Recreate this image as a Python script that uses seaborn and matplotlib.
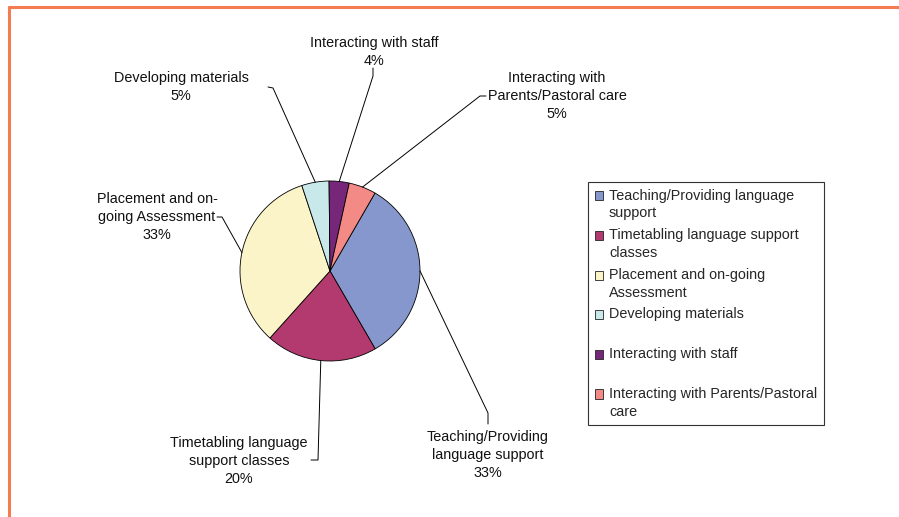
import numpy as np
import matplotlib
matplotlib.use("Agg")
import matplotlib.pyplot as plt
import seaborn as sns
from matplotlib.lines import Line2D
from matplotlib.patches import Rectangle
from matplotlib.legend_handler import HandlerPatch

# --- data -------------------------------------------------------------
categories = [
    "Teaching/Providing language support",
    "Timetabling language support classes",
    "Placement and on-going Assessment",
    "Developing materials",
    "Interacting with staff",
    "Interacting with Parents/Pastoral care",
]
shares = [33.3, 20.0, 33.3, 4.9, 3.6, 4.9]
pct_labels = ["33%", "20%", "33%", "5%", "4%", "5%"]

pie_labels = [
    "Teaching/Providing\nlanguage support",
    "Timetabling language\nsupport classes",
    "Placement and on-\ngoing Assessment",
    "Developing materials",
    "Interacting with staff",
    "Interacting with\nParents/Pastoral care",
]
legend_labels = [
    "Teaching/Providing language\nsupport",
    "Timetabling language support\nclasses",
    "Placement and on-going\nAssessment",
    "Developing materials\n ",
    "Interacting with staff\n ",
    "Interacting with Parents/Pastoral\ncare",
]
colors = ["#8597CC", "#B33A6E", "#FBF4C8", "#C9E8EA", "#76277A", "#F38A85"]

# --- layout (pixels in the 899x517 picture) ---------------------------
W, H = 899, 517
CX, CY, R = 330, 271, 90
FS = 10.4
LS = 1.36
# label centre, elbow point, end point of leader
label_pos = [(488, 455), (239, 461), (157, 217), (181, 87), (374, 52), (557, 96)]
elbows = [(488, 413), (318, 460), (222, 217), (273, 88), (373, 76), (480, 96)]
ends = [(488, 424), (311, 460), (217, 217), (268, 87), (373, 68), (486, 96)]


def px(p):
    return ((p[0] - CX) / R, (CY - p[1]) / R)


sns.set_theme(style="white")
plt.rcParams["font.family"] = ["Liberation Sans", "DejaVu Sans"]

fig = plt.figure(figsize=(W / 100, H / 100), dpi=100)
ax = fig.add_axes([0, 0, 1, 1])

wedges, _ = ax.pie(shares, colors=colors, startangle=60, counterclock=False,
                   radius=1, wedgeprops=dict(edgecolor="black", linewidth=0.6))
ax.set_xlim(-CX / R, (W - CX) / R)
ax.set_ylim(-(H - CY) / R, CY / R)
ax.set_aspect("equal")
ax.axis("off")

for w, lab, pct, lp, el, en in zip(wedges, pie_labels, pct_labels,
                                   label_pos, elbows, ends):
    mid = np.deg2rad((w.theta1 + w.theta2) / 2)
    x0, y0 = np.cos(mid), np.sin(mid)
    ex, ey = px(el)
    nx, ny = px(en)
    ax.plot([x0, ex, nx], [y0, ey, ny], color="black", lw=0.7,
            clip_on=False)
    tx, ty = px(lp)
    ax.text(tx, ty, f"{lab}\n{pct}", ha="center", va="center",
            fontsize=FS, color="#111111", linespacing=LS)


# legend: square swatch sits on the first line of each entry
def shifted_square(legend, orig_handle, xdescent, ydescent, width, height,
                   fontsize):
    return Rectangle((-xdescent, -ydescent + 6.5), width, height)


handles = [Rectangle((0, 0), 1, 1, facecolor=c, edgecolor="#222222", lw=0.6)
           for c in colors]
leg = fig.legend(handles, legend_labels, loc="upper left",
                 bbox_to_anchor=(588 / W, 1 - 182 / H), borderaxespad=0,
                 fontsize=FS, frameon=True, fancybox=False, framealpha=1,
                 edgecolor="#333333", handlelength=0.6, handleheight=0.6,
                 handletextpad=0.4, labelspacing=0.53, borderpad=0.45,
                 handler_map={Rectangle: HandlerPatch(patch_func=shifted_square)})
leg.get_frame().set_linewidth(0.8)
for t in leg.get_texts():
    t.set_linespacing(LS)

# orange frame on left and top
orange = "#F47C50"
fig.add_artist(Line2D([8.5 / W, 8.5 / W], [0, 1 - 7 / H], color=orange,
                      lw=2.2, transform=fig.transFigure))
fig.add_artist(Line2D([8.5 / W, 1], [1 - 7 / H, 1 - 7 / H], color=orange,
                      lw=2.2, transform=fig.transFigure))

fig.savefig("out.png", dpi=100, facecolor="white")
